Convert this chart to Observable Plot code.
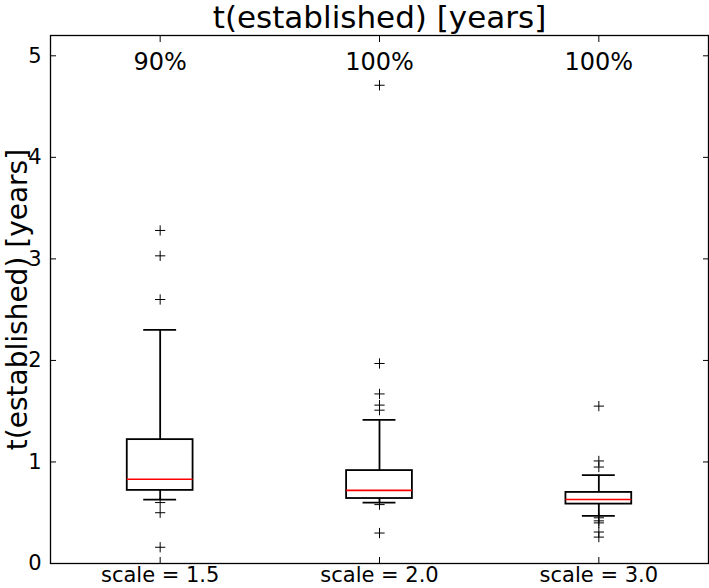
<!DOCTYPE html>
<html>
<head>
<meta charset="utf-8">
<script src="https://cdn.jsdelivr.net/npm/d3@7"></script>
<script src="https://cdn.jsdelivr.net/npm/@observablehq/plot@0.6"></script>
<style>
  html, body { margin: 0; padding: 0; background: #fff; overflow: hidden; }
  svg { display: block; font-family: "DejaVu Sans", sans-serif; }
</style>
</head>
<body>
<div id="chart"></div>
<script>
const titleText = "t(established) [years]";
const yLabelText = "t(established) [years]";
const categories = ["scale = 1.5", "scale = 2.0", "scale = 3.0"];
const positions = [1, 2, 3];
const percentLabels = ["90%", "100%", "100%"];
const q1 = [0.72, 0.64, 0.585];
const median = [0.83, 0.72, 0.63];
const q3 = [1.22, 0.915, 0.70];
const whiskerLow = [0.63, 0.60, 0.47];
const whiskerHigh = [2.30, 1.415, 0.87];
const outliers1 = [3.28, 3.03, 2.60, 0.60, 0.50, 0.16];
const outliers2 = [4.71, 1.97, 1.67, 1.56, 1.51, 0.58, 0.30];
const outliers3 = [1.55, 1.01, 0.95, 0.45, 0.42, 0.40, 0.31, 0.26];
const yTicks = [0, 1, 2, 3, 4, 5];

const boxWidth = 0.3;
const stats = positions.map((p, i) => ({
  pos: p, cat: categories[i], pct: percentLabels[i],
  q1: q1[i], med: median[i], q3: q3[i], lo: whiskerLow[i], hi: whiskerHigh[i]
}));
const outliers = [outliers1, outliers2, outliers3].flatMap((arr, i) =>
  arr.map(v => ({pos: positions[i], v})));

const chart = Plot.plot({
  width: 709,
  height: 588,
  marginLeft: 50,
  marginRight: 1,
  marginTop: 35,
  marginBottom: 25,
  style: {fontFamily: "DejaVu Sans, sans-serif", background: "white"},
  x: {domain: [0.5, 3.5]},
  y: {domain: [0, 5.2]},
  marks: [
    // whiskers
    Plot.ruleX(stats, {x: "pos", y1: "q3", y2: "hi", stroke: "black", strokeWidth: 1.8}),
    Plot.ruleX(stats, {x: "pos", y1: "q1", y2: "lo", stroke: "black", strokeWidth: 1.8}),
    // caps
    Plot.ruleY(stats, {y: "hi", x1: d => d.pos - boxWidth / 4, x2: d => d.pos + boxWidth / 4, stroke: "black", strokeWidth: 1.8}),
    Plot.ruleY(stats, {y: "lo", x1: d => d.pos - boxWidth / 4, x2: d => d.pos + boxWidth / 4, stroke: "black", strokeWidth: 1.8}),
    // boxes
    Plot.rect(stats, {x1: d => d.pos - boxWidth / 2, x2: d => d.pos + boxWidth / 2, y1: "q1", y2: "q3", fill: "white", stroke: "black", strokeWidth: 1.8}),
    // medians
    Plot.ruleY(stats, {y: "med", x1: d => d.pos - boxWidth / 2, x2: d => d.pos + boxWidth / 2, stroke: "red", strokeWidth: 1.6}),
    // outliers
    Plot.dot(outliers, {x: "pos", y: "v", symbol: "plus", r: 3.4, stroke: "black", strokeWidth: 1}),
    // percent labels
    Plot.text(stats, {x: "pos", text: "pct", frameAnchor: "top", lineAnchor: "middle", dy: 27, fontSize: 24, fill: "black"}),
    // frame
    Plot.frame({stroke: "black", strokeWidth: 1.3}),
    // inward ticks
    Plot.axisY(yTicks, {anchor: "left", tickSize: -6, tickFormat: () => "", label: null}),
    Plot.axisY(yTicks, {anchor: "right", tickSize: -6, tickFormat: () => "", label: null}),
    Plot.axisX(positions, {anchor: "bottom", tickSize: -6, tickFormat: () => "", label: null}),
    Plot.axisX(positions, {anchor: "top", tickSize: -6, tickFormat: () => "", label: null}),
    // tick labels
    Plot.axisY(yTicks, {anchor: "left", tickSize: 0, tickPadding: 9, fontSize: 21, label: null, tickFormat: d => String(d)}),
    Plot.axisX(positions, {anchor: "bottom", tickSize: 0, tickPadding: 4, fontSize: 21, label: null, tickFormat: d => categories[d - 1]}),
    // y label
    Plot.text([yLabelText], {text: d => d, frameAnchor: "left", textAnchor: "middle", lineAnchor: "middle", rotate: -90, dx: -32, fontSize: 28, fill: "black"}),
    // title
    Plot.text([titleText], {text: d => d, frameAnchor: "top", lineAnchor: "middle", dy: -17, fontSize: 31, fill: "black"})
  ]
});
document.getElementById("chart").appendChild(chart);
</script>
</body>
</html>
